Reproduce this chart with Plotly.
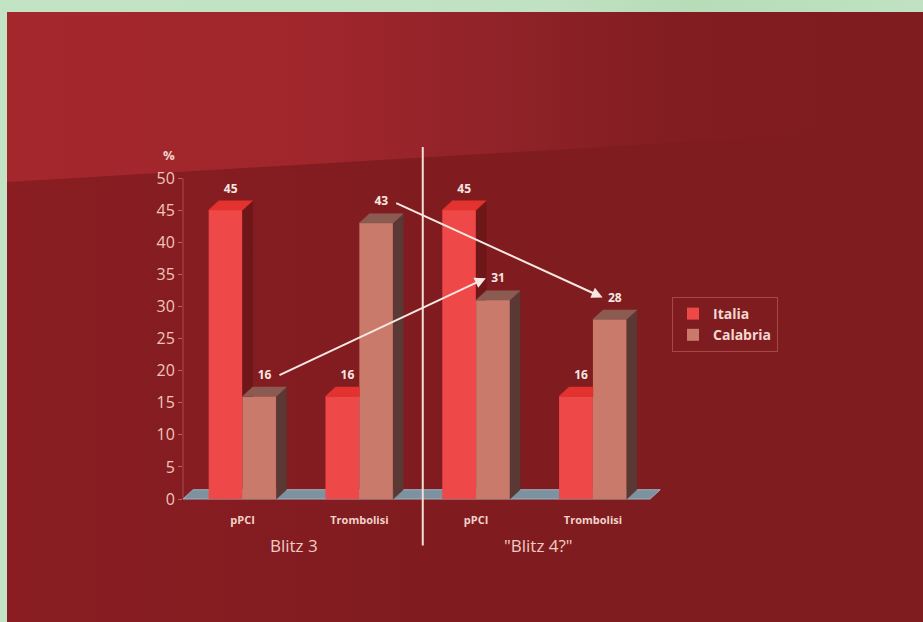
import base64
import plotly.graph_objects as go

# ---------------- data ----------------
categories = ["pPCI", "Trombolisi", "pPCI", "Trombolisi"]
group_labels = ["Blitz 3", "\"Blitz 4?\""]
series_names = ["Italia", "Calabria"]
italia = [45, 16, 45, 16]
calabria = [16, 43, 31, 28]
y_ticks = [0, 5, 10, 15, 20, 25, 30, 35, 40, 45, 50]

# arrows: (from category index, to category index) on the Calabria series
arrows = [(0, 2), (1, 3)]

# ---------------- style ----------------
FONT = "Open Sans, DejaVu Sans, sans-serif"
IT_FRONT, IT_TOP, IT_SIDE = "#ef4848", "#e3322f", "#6f1618"
CA_FRONT, CA_TOP, CA_SIDE = "#c97a6b", "#8b5b51", "#5a3934"
TXT = "#f3d2ca"
W, DX, DY = 0.29, 0.086, 1.45      # bar width, 3D depth (x, y in data units)
LABEL_OFF = 3.2

L, R, T, B = 183, 260, 152, 110
FW, FH = 923, 622
PW, PH = FW - L - R, FH - T - B
XR = [-0.51, 3.6]
YR = [-2.02, 54.05]

xs = list(range(len(categories)))

fig = go.Figure()

# front faces (real bars)
fig.add_bar(x=xs, y=italia, width=W, offset=-W, name=series_names[0],
            marker=dict(color=IT_FRONT, line=dict(width=0)),
            legendgroup="a", hoverinfo="skip")
fig.add_bar(x=xs, y=calabria, width=W, offset=0, name=series_names[1],
            marker=dict(color=CA_FRONT, line=dict(width=0)),
            legendgroup="b", hoverinfo="skip")


def poly_trace(xx, yy, color):
    return go.Scatter(x=xx, y=yy, mode="lines", fill="toself", fillcolor=color,
                      line=dict(width=0.5, color=color), showlegend=False,
                      hoverinfo="skip")


# Italia side & top faces (clipped where Calabria bar is in front)
sx, sy, tx, ty = [], [], [], []
for x, vi, vc in zip(xs, italia, calabria):
    xl, xr = x - W, x
    if vi > vc:
        sx += [xr, xr + DX, xr + DX, xr, xr, None]
        sy += [vc, vc, vi + DY, vi, vc, None]
        tx += [xl, xr, xr + DX, xl + DX, xl, None]
        ty += [vi, vi, vi + DY, vi + DY, vi, None]
    else:
        tx += [xl, xr, xr, xl + DX, xl, None]
        ty += [vi, vi, vi + DY, vi + DY, vi, None]
if sx:
    fig.add_trace(poly_trace(sx, sy, IT_SIDE))
fig.add_trace(poly_trace(tx, ty, IT_TOP))

# Calabria side & top faces
sx, sy, tx, ty = [], [], [], []
for x, vc in zip(xs, calabria):
    xl, xr = x, x + W
    sx += [xr, xr + DX, xr + DX, xr, xr, None]
    sy += [0, DY, vc + DY, vc, 0, None]
    tx += [xl, xr, xr + DX, xl + DX, xl, None]
    ty += [vc, vc, vc + DY, vc + DY, vc, None]
fig.add_trace(poly_trace(sx, sy, CA_SIDE))
fig.add_trace(poly_trace(tx, ty, CA_TOP))

# value labels
it_lx = [x - W / 2 + DX / 2 for x in xs]
ca_lx = [x + W / 2 + DX / 2 for x in xs]
fig.add_trace(go.Scatter(
    x=it_lx + ca_lx,
    y=[v + LABEL_OFF for v in italia] + [v + LABEL_OFF for v in calabria],
    text=[str(v) for v in italia] + [str(v) for v in calabria],
    mode="text", textposition="middle center",
    textfont=dict(family=FONT, size=12, color="#f8e6e0", weight="bold"),
    showlegend=False, hoverinfo="skip"))

# arrows between Calabria labels
annotations = []
for a, b in arrows:
    annotations.append(dict(
        x=ca_lx[b] - 0.105, y=calabria[b] + LABEL_OFF + 0.2,
        ax=ca_lx[a] + 0.115, ay=calabria[a] + LABEL_OFF,
        xref="x", yref="y", axref="x", ayref="y", text="",
        showarrow=True, arrowhead=2, arrowsize=1.1, arrowwidth=2,
        arrowcolor="#f7e8e2", standoff=0, startstandoff=0))

# group labels
for gx, gl in zip([0.44, 2.53], group_labels):
    annotations.append(dict(x=gx, y=-0.092, xref="x", yref="paper", text=gl,
                            showarrow=False, xanchor="center", yanchor="middle",
                            font=dict(family=FONT, size=17, color="#f1cbc3")))
# % label
annotations.append(dict(x=-0.012, y=0.992, xref="paper", yref="paper", text="%",
                        showarrow=False, xanchor="right", yanchor="middle",
                        font=dict(family=FONT, size=13, color=TXT, weight="bold")))

shapes = [
    # floor
    dict(type="path", xref="x", yref="y", layer="below",
         path=f"M {XR[0]},0 L 3.49,0 L {3.49 + DX},{DY} L {XR[0] + DX},{DY} Z",
         fillcolor="#7c92a1", line=dict(color="#9fb0bb", width=1)),
    # faint y axis line
    dict(type="line", xref="paper", yref="y", x0=0, x1=0, y0=0, y1=50,
         layer="below", line=dict(color="rgba(235,170,160,0.35)", width=1)),
    # divider
    dict(type="line", xref="x", yref="paper", x0=1.5 + DX / 2, x1=1.5 + DX / 2,
         y0=-0.092 - 0.001, y1=1.014, line=dict(color="#f3ddd5", width=2)),
]

svg = f'''<svg xmlns="http://www.w3.org/2000/svg" width="{FW}" height="{FH}" viewBox="0 0 {FW} {FH}" preserveAspectRatio="none">
<defs>
<linearGradient id="g1" x1="0" y1="0" x2="1" y2="0">
<stop offset="0" stop-color="#a4272d"/><stop offset="0.33" stop-color="#a0262c"/>
<stop offset="0.52" stop-color="#912329"/><stop offset="0.72" stop-color="#821d21"/>
<stop offset="1" stop-color="#7e1c20"/></linearGradient>
<linearGradient id="g2" x1="0" y1="0" x2="1" y2="0">
<stop offset="0" stop-color="#891d22"/><stop offset="0.45" stop-color="#801c20"/>
<stop offset="1" stop-color="#7e1c20"/></linearGradient>
<linearGradient id="g3" x1="0" y1="0" x2="1" y2="0">
<stop offset="0" stop-color="#c3e3c5"/><stop offset="0.6" stop-color="#c0e1c2"/>
<stop offset="0.75" stop-color="#b6dcb8"/><stop offset="1" stop-color="#c0e2c2"/></linearGradient>
</defs>
<rect width="{FW}" height="{FH}" fill="url(#g3)"/>
<rect x="7" y="12" width="{FW - 7}" height="{FH - 12}" fill="url(#g2)"/>
<polygon points="7,12 {FW},12 {FW},128 7,182" fill="url(#g1)"/>
</svg>'''
src = "data:image/svg+xml;base64," + base64.b64encode(svg.encode()).decode()

fig.update_layout(
    width=FW, height=FH, autosize=False,
    margin=dict(l=L, r=R, t=T, b=B, pad=0),
    paper_bgcolor="#c2e3c4", plot_bgcolor="rgba(0,0,0,0)",
    barmode="overlay",
    images=[dict(source=src, xref="paper", yref="paper",
                 x=-L / PW, y=1 + T / PH, sizex=FW / PW, sizey=FH / PH,
                 xanchor="left", yanchor="top", sizing="stretch", layer="below")],
    shapes=shapes, annotations=annotations,
    showlegend=True,
    legend=dict(x=(672 - L) / PW, y=(FH - B - 297) / PH, xanchor="left", yanchor="top",
                bgcolor="rgba(0,0,0,0)", bordercolor="#a64848", borderwidth=1,
                font=dict(family=FONT, size=14, color="#f4d8d0", weight="bold"),
                itemwidth=30, tracegroupgap=6, traceorder="normal"),
    xaxis=dict(range=XR, tickvals=xs, ticktext=categories, showgrid=False,
               zeroline=False, showline=False, ticks="",
               tickfont=dict(family=FONT, size=11, color="#f2d2ca", weight="bold")),
    yaxis=dict(range=YR, tickvals=y_ticks, showgrid=False, zeroline=False,
               showline=False, ticks="outside", ticklen=4,
               tickcolor="rgba(235,170,160,0.5)",
               tickfont=dict(family=FONT, size=16, color="#f2c4bc")),
    hovermode=False,
)

fig.write_html("out.html",
               config={"displayModeBar": False, "staticPlot": True},
               post_script="document.body.style.margin='0';document.body.style.overflow='hidden';")
